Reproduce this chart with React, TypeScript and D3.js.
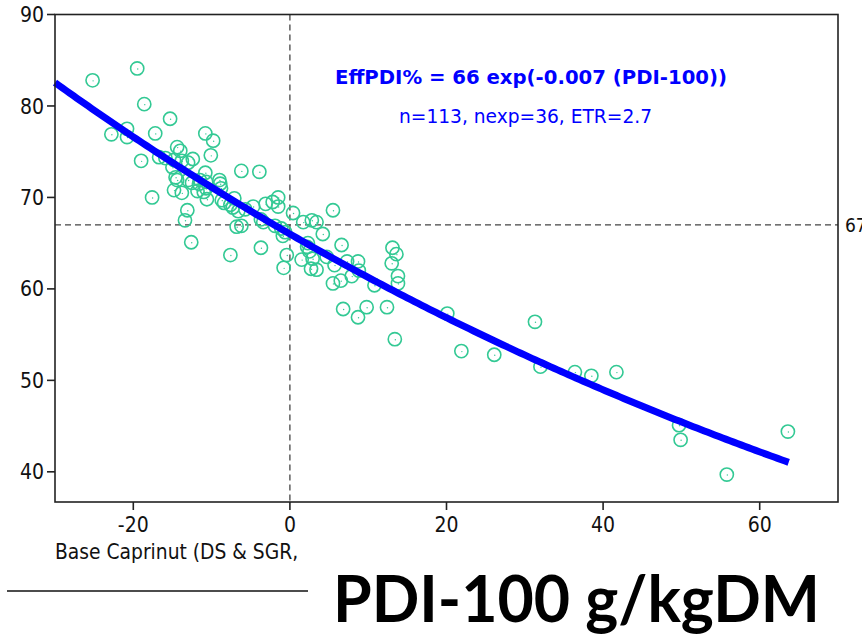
import React from "react";
import * as d3 from "d3";

const xs: number[] = [
  -25.2, -19.5, -18.6, -22.8, -20.8, -20.8, -17.2, -15.3, -19.0, -17.6,
  -10.8, -9.8, -10.1, -6.2, -3.9, -14.4, -14.0, -16.7, -15.9, -13.8,
  -12.4, -13.0, -15.0, -14.6, -14.4, -10.8, -11.5, -10.7, -11.6, -10.7,
  -13.0, -12.5, -14.8, -13.8, -11.8, -11.0, -10.6, -9.0, -8.9, -8.8,
  -8.4, -8.7, -7.6, -7.1, -7.3, -6.6, -5.7, -4.7, -3.1, -2.2,
  -1.5, -1.5, 0.4, -3.7, -3.4, -1.9, -1.1, -0.6, -0.9, -6.8,
  -6.2, -13.1, -13.4, -12.6, -7.6, -3.7, -0.4, -0.8, 1.7, 2.8,
  3.4, 5.5, 4.2, 2.3, 2.2, 2.5, 6.6, 1.5, 2.9, 2.7,
  3.4, 4.7, 5.7, 7.3, 8.7, 8.8, 7.9, 5.5, 6.5, 10.8,
  13.1, 13.6, 13.0, 13.8, 13.8, 6.8, 9.8, 8.7, 12.4, 13.4,
  20.1, 31.3, 21.9, 26.1, 32.0, 36.4, 38.5, 41.7, 49.7, 49.9,
  55.8, 63.6, -14.8,
];
const ys: number[] = [
  82.8, 84.1, 80.2, 76.9, 77.5, 76.6, 77.0, 78.6, 74.0, 70.0,
  77.0, 76.2, 74.6, 72.9, 72.8, 75.5, 75.1, 74.4, 74.3, 74.0,
  74.2, 73.8, 73.3, 72.2, 71.9, 72.7, 71.9, 71.7, 71.5, 71.0,
  71.9, 71.6, 70.8, 70.5, 70.7, 70.6, 69.8, 71.9, 71.5, 71.0,
  69.4, 69.7, 69.2, 69.9, 68.9, 68.5, 68.7, 69.0, 69.3, 69.5,
  70.0, 69.0, 68.3, 67.6, 67.3, 66.9, 66.6, 66.2, 65.8, 66.8,
  66.9, 68.6, 67.5, 65.1, 63.7, 64.5, 63.7, 62.3, 67.3, 67.5,
  67.3, 68.6, 66.0, 65.0, 64.6, 64.1, 64.8, 63.2, 63.3, 62.2,
  62.1, 63.5, 62.6, 63.0, 63.0, 62.0, 61.4, 60.6, 60.9, 60.4,
  64.5, 63.8, 62.8, 61.4, 60.6, 57.8, 58.0, 56.9, 58.0, 54.5,
  57.3, 56.4, 53.2, 52.8, 51.5, 50.9, 50.5, 50.9, 45.1, 43.5,
  39.7, 44.4, 74.1,
];

const xTicks = [-20, 0, 20, 40, 60];
const yTicks = [40, 50, 60, 70, 80, 90];
const fitA = 66;
const fitB = 0.00746;
const fitRange = [-30, 63.7];
const refX = 0;
const refY = 67;

const eqText = "EffPDI% = 66 exp(-0.007 (PDI-100))";
const statText = "n=113, nexp=36, ETR=2.7";
const xLabel = "Base Caprinut (DS & SGR, PDI-100)";
const bigLabel = "PDI-100 g/kgDM";

const FONT = "'DejaVu Sans Condensed', 'DejaVu Sans', sans-serif";

export default function App() {
  const W = 862, H = 636;
  const L = 55, R = 838, T = 14.5, B = 502;
  const x = d3.scaleLinear().domain([-30, 70]).range([L, R]);
  const y = d3.scaleLinear().domain([36.7, 90]).range([B, T]);

  const fitPts: [number, number][] = d3
    .range(0, 201)
    .map((i) => {
      const xv = fitRange[0] + ((fitRange[1] - fitRange[0]) * i) / 200;
      return [xv, fitA * Math.exp(-fitB * xv)];
    });
  const line = d3
    .line<[number, number]>()
    .x((d) => x(d[0]))
    .y((d) => y(d[1]));

  const axisColor = "#222";
  const ptColor = "#33C994";

  return (
    <svg
      width={W}
      height={H}
      style={{ position: "absolute", left: 0, top: 0, background: "#fff" }}
    >
      <rect x={0} y={0} width={W} height={H} fill="#fff" />
      {/* reference dashed lines */}
      <line
        x1={x(refX)} x2={x(refX)} y1={T} y2={B}
        stroke="#444" strokeWidth={1.3} strokeDasharray="6,4"
      />
      <line
        x1={L} x2={R} y1={y(refY)} y2={y(refY)}
        stroke="#444" strokeWidth={1.3} strokeDasharray="6,4"
      />
      <text
        x={R + 7} y={y(refY)} dy="0.35em"
        fontFamily={FONT} fontSize={19} fill="#111"
      >
        {refY}
      </text>

      {/* points */}
      {xs.map((xv, i) => (
        <g key={i}>
          <circle
            cx={x(xv)} cy={y(ys[i])} r={6.6}
            fill="none" stroke={ptColor} strokeWidth={1.6}
          />
          <circle cx={x(xv) + 0.5} cy={y(ys[i]) + 0.5} r={0.7} fill={ptColor} />
        </g>
      ))}

      {/* fit line */}
      <path
        d={line(fitPts) || ""}
        fill="none" stroke="#0000FF" strokeWidth={7} strokeLinecap="butt"
      />

      {/* frame */}
      <rect
        x={L} y={T} width={R - L} height={B - T}
        fill="none" stroke={axisColor} strokeWidth={1.6}
      />
      {yTicks.map((t) => (
        <g key={"y" + t}>
          <line x1={L - 8} x2={L} y1={y(t)} y2={y(t)} stroke={axisColor} strokeWidth={1.6} />
          <text
            x={L - 11} y={y(t)} dy="0.36em" textAnchor="end"
            fontFamily={FONT} fontSize={21} fill="#111"
          >
            {t}
          </text>
        </g>
      ))}
      {xTicks.map((t) => (
        <g key={"x" + t}>
          <line x1={x(t)} x2={x(t)} y1={B} y2={B + 8} stroke={axisColor} strokeWidth={1.6} />
          <text
            x={x(t)} y={532} textAnchor="middle"
            fontFamily={FONT} fontSize={21} fill="#111"
          >
            {t}
          </text>
        </g>
      ))}

      {/* annotations */}
      <text
        x={335} y={84} textLength={392} lengthAdjust="spacingAndGlyphs"
        fontFamily={FONT} fontWeight="bold" fontSize={20} fill="#0000FF"
      >
        {eqText}
      </text>
      <text
        x={399} y={123} textLength={253} lengthAdjust="spacingAndGlyphs"
        fontFamily={FONT} fontSize={20} fill="#0000FF"
      >
        {statText}
      </text>

      {/* x axis label, partly covered */}
      <text x={55} y={559} fontFamily={FONT} fontSize={20.8} fill="#111">
        {xLabel}
      </text>
      <rect x={304} y={541.5} width={W - 304} height={H - 541.5} fill="#fff" />
      <line x1={7} x2={308} y1={591} y2={591} stroke="#111" strokeWidth={1.6} />
      <text
        x={333} y={621.5} textLength={487} lengthAdjust="spacingAndGlyphs"
        fontFamily="Lato, 'Open Sans', sans-serif" fontWeight="bold" fontSize={65} fill="#000"
      >
        {bigLabel}
      </text>
    </svg>
  );
}
